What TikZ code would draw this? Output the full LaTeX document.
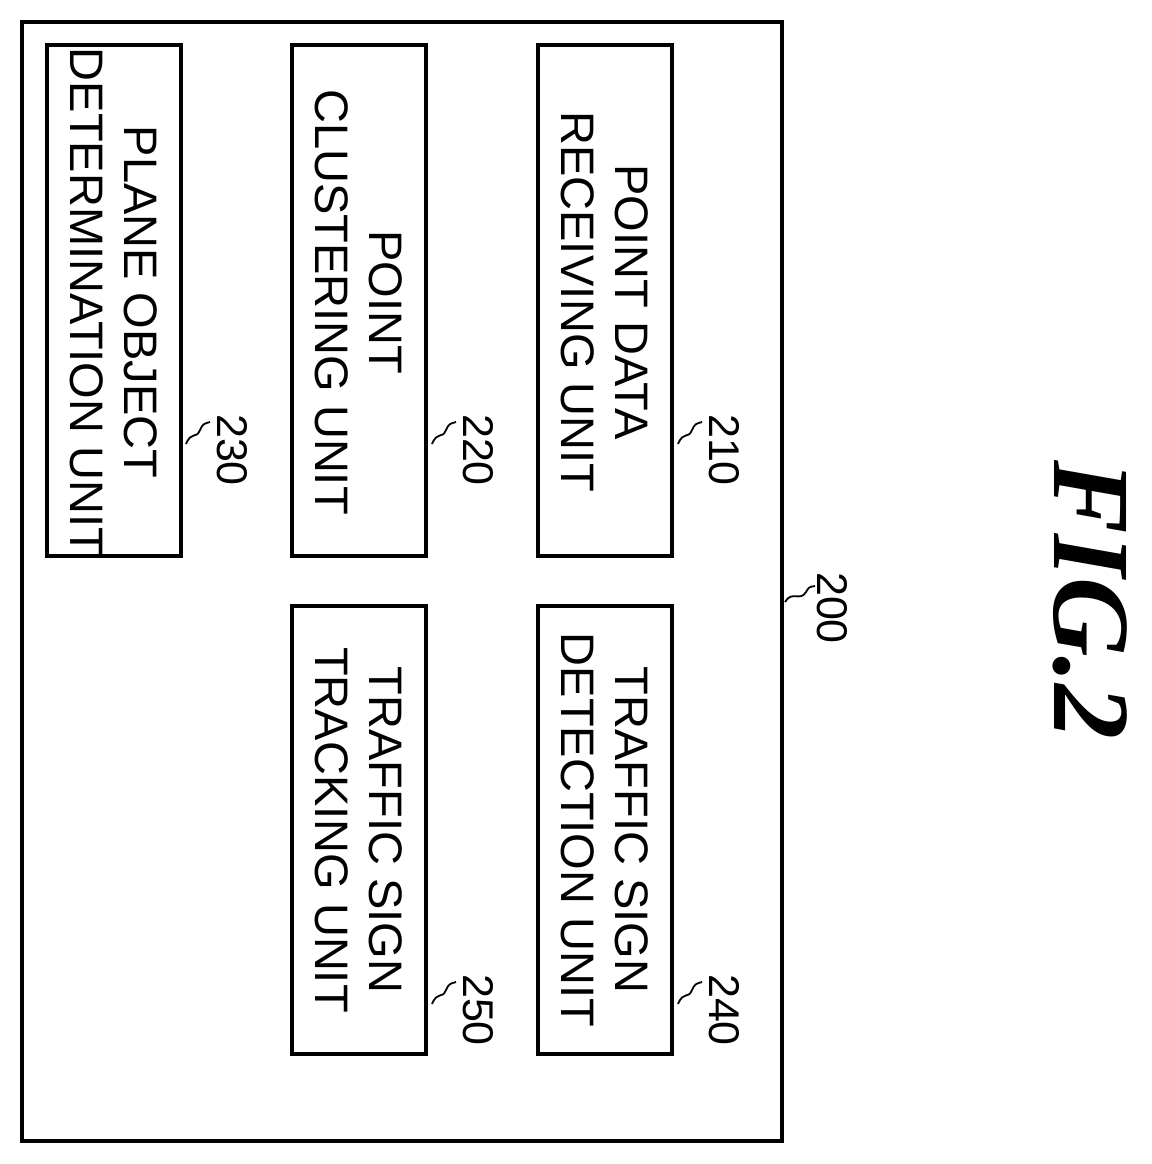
\documentclass[tikz,border=0pt]{standalone}
\usepackage{fontspec}
\setmainfont{Liberation Sans}
\newfontfamily\figfont{Liberation Serif}
\usepackage{tikz}

\tikzset{
  box/.style={line width=3.5pt},
  unittext/.style={rotate=-90, align=center, font=\fontsize{47}{54}\selectfont},
  reflabel/.style={rotate=-90, font=\fontsize{43}{48}\selectfont},
  squiggle/.style={line width=1.8pt}
}

\begin{document}
\begin{tikzpicture}[x=1pt, y=-1pt]
  \useasboundingbox (0,0) rectangle (1151,1164);

  % outer device
  \draw[box] (22,22) rectangle (782,1141);

  % units
  \draw[box] (538,45) rectangle (672,556);
  \node[unittext] (pdr) at (605,302) {POINT DATA\\RECEIVING UNIT};
  \draw[box] (292,45) rectangle (426,556);
  \node[unittext] (pcl) at (359,302) {POINT\\CLUSTERING UNIT};
  \draw[box] (47,45) rectangle (181,556);
  \node[unittext] (pod) at (114,302) {PLANE OBJECT\\DETERMINATION UNIT};
  \draw[box] (538,606) rectangle (672,1054);
  \node[unittext] (tsd) at (605,830) {TRAFFIC SIGN\\DETECTION UNIT};
  \draw[box] (292,606) rectangle (426,1054);
  \node[unittext] (tst) at (359,830) {TRAFFIC SIGN\\TRACKING UNIT};

  % reference numerals
  \node[reflabel] (l210) at (724,450) {210};
  \node[reflabel] (l220) at (478,450) {220};
  \node[reflabel] (l230) at (232,450) {230};
  \node[reflabel] (l240) at (724,1010) {240};
  \node[reflabel] (l250) at (478,1010) {250};
  \node[reflabel] (l200) at (832,608) {200};
  \foreach \x/\y in {678/422, 432/422, 186/422, 678/982, 432/982}
    \draw[squiggle] (\x,\y+22) .. controls (\x+6,\y+8) and (\x+10,\y+18) .. (\x+14,\y+8)
                    .. controls (\x+17,\y+2) .. (\x+24,\y);
  \draw[squiggle] (785,602) .. controls (792,590) and (800,602) .. (806,592)
                  .. controls (809,587) .. (815,586);

  % figure title
  \node[rotate=-90, font=\figfont\bfseries\itshape\fontsize{110}{120}\selectfont] (title) at (1090,600) {FIG.2};
\end{tikzpicture}
\end{document}
